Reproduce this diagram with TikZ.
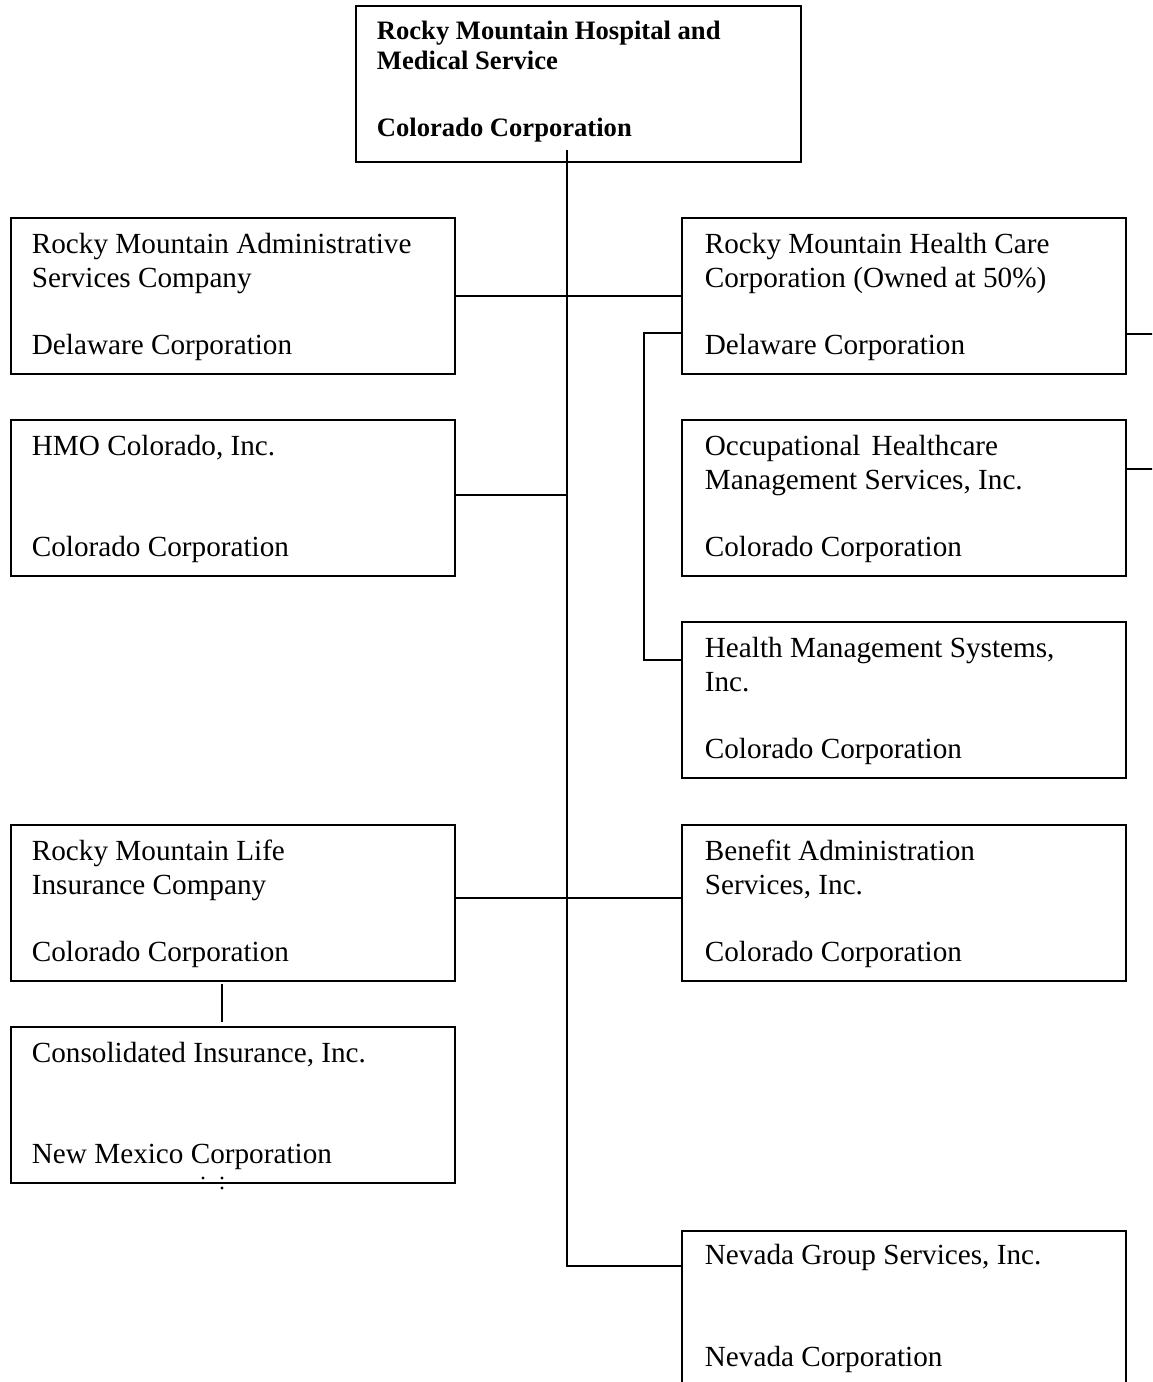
\documentclass[tikz,border=0pt]{standalone}
\usepackage{fontspec}
\setmainfont{Liberation Serif}
\begin{document}
\begin{tikzpicture}[x=0.5pt,y=-0.5pt, line width=0.9pt,
 box/.style={draw, rectangle, anchor=north west, inner sep=0pt, outer sep=0pt, minimum width=222pt, minimum height=78pt},
 ttl/.style={anchor=north west, inner sep=0pt, align=left, font=\fontsize{14.6pt}{16.75pt}\selectfont},
 st/.style={anchor=base west, inner sep=0pt, font=\fontsize{14.6pt}{16.75pt}\selectfont},
 bttl/.style={anchor=north west, inner sep=0pt, align=left, font=\fontsize{13.3pt}{15pt}\selectfont\bfseries},
 bst/.style={anchor=base west, inner sep=0pt, font=\fontsize{13.3pt}{15pt}\selectfont\bfseries}]
\useasboundingbox (0,0) rectangle (1152,1382);
\clip (0,0) rectangle (1152,1382);

% boxes
\node[box, minimum width=222.5pt] (top) at (356,6) {};
\node[box] (admin) at (11,218) {};
\node[box] (hmo) at (11,420) {};
\node[box] (life) at (11,825) {};
\node[box] (cons) at (11,1027) {};
\node[box] (hc) at (682,218) {};
\node[box] (occ) at (682,420) {};
\node[box] (hms) at (682,622) {};
\node[box] (ben) at (682,825) {};
\node[box, minimum height=90pt] (nev) at (682,1231) {};

% texts
\node[bttl] (top-t) at ([shift={(10pt,-6pt)}]top.north west) {\strut Rocky Mountain Hospital and\\Medical Service};
\node[bst] (top-s) at ([shift={(10pt,-65pt)}]top.north west) {Colorado Corporation};

\node[ttl] (admin-t) at ([shift={(10pt,-5.8pt)}]admin.north west) {\strut Rocky Mountain Administrative\\Services Company};
\node[st] (admin-s) at ([shift={(10pt,-68pt)}]admin.north west) {Delaware Corporation};

\node[ttl] (hmo-t) at ([shift={(10pt,-5.8pt)}]hmo.north west) {\strut HMO Colorado, Inc.};
\node[st] (hmo-s) at ([shift={(10pt,-68pt)}]hmo.north west) {Colorado Corporation};

\node[ttl] (life-t) at ([shift={(10pt,-5.8pt)}]life.north west) {\strut Rocky Mountain Life\\Insurance Company};
\node[st] (life-s) at ([shift={(10pt,-68pt)}]life.north west) {Colorado Corporation};

\node[ttl] (cons-t) at ([shift={(10pt,-5.8pt)}]cons.north west) {\strut Consolidated Insurance, Inc.};
\node[st] (cons-s) at ([shift={(10pt,-68pt)}]cons.north west) {New Mexico Corporation};

\node[ttl] (hc-t) at ([shift={(11pt,-5.8pt)}]hc.north west) {\strut Rocky Mountain Health Care\\Corporation (Owned at 50\%)};
\node[st] (hc-s) at ([shift={(11pt,-68pt)}]hc.north west) {Delaware Corporation};

\node[ttl] (occ-t) at ([shift={(11pt,-5.8pt)}]occ.north west) {\strut Occupational\hspace{0.38em}Healthcare\\Management Services, Inc.};
\node[st] (occ-s) at ([shift={(11pt,-68pt)}]occ.north west) {Colorado Corporation};

\node[ttl] (hms-t) at ([shift={(11pt,-5.8pt)}]hms.north west) {\strut Health Management Systems,\\Inc.};
\node[st] (hms-s) at ([shift={(11pt,-68pt)}]hms.north west) {Colorado Corporation};

\node[ttl] (ben-t) at ([shift={(11pt,-5.8pt)}]ben.north west) {\strut Benefit Administration\\Services, Inc.};
\node[st] (ben-s) at ([shift={(11pt,-68pt)}]ben.north west) {Colorado Corporation};

\node[ttl] (nev-t) at ([shift={(11pt,-4.8pt)}]nev.north west) {\strut Nevada Group Services, Inc.};
\node[st] (nev-s) at ([shift={(11pt,-67.5pt)}]nev.north west) {Nevada Corporation};

% connectors
\coordinate (t0) at (567,150);
\coordinate (bk) at (644,0);
\coordinate (edge) at (1160,0);
\coordinate (nvc) at ([yshift=-17.5pt]nev.north west);
\draw (t0) -- (t0 |- nvc) -- (nvc);
\draw (admin.east) -- (hc.west);
\coordinate (hmoc) at ([yshift=1.5pt]hmo.east);
\draw (hmoc) -- (hmoc -| t0);
\draw ([yshift=2.5pt]life.east) -- ([yshift=2.5pt]ben.west);
\coordinate (hcb) at ([yshift=-18.5pt]hc.west);
\coordinate (hmsb) at ([yshift=20pt]hms.west);
\draw (hcb) -- (hcb -| bk) -- (hmsb -| bk) -- (hmsb);
\coordinate (hcr) at ([yshift=-19pt]hc.east);
\coordinate (occr) at ([yshift=14.5pt]occ.east);
\draw (hcr) -- (hcr -| edge);
\draw (occr) -- (occr -| edge);
\coordinate (lc1) at ([xshift=-5.5pt,yshift=-1.5pt]life.south);
\coordinate (lc2) at ([xshift=-5.5pt,yshift=2.5pt]cons.north);
\draw (lc1) -- (lc2);

% small dots below the New Mexico box text
\fill (203,1178) circle (0.8pt);
\fill (222,1178) circle (0.8pt);
\fill (222,1188) circle (0.8pt);
\end{tikzpicture}
\end{document}
